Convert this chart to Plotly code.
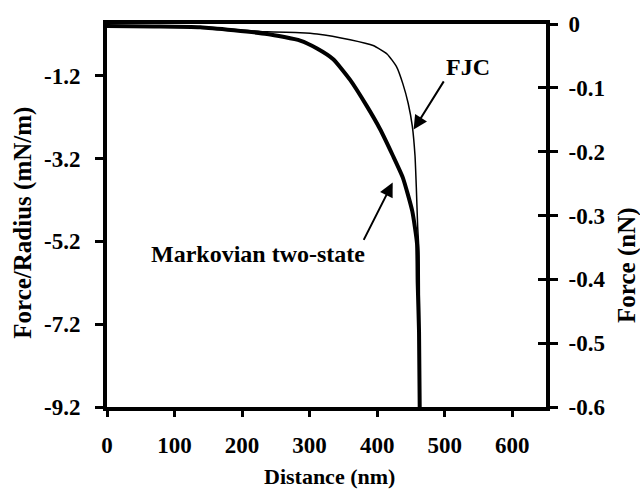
import plotly.graph_objects as go

# Data (distance in nm, force/radius in mN/m)
fjc_x = [0, 70, 138, 237, 286, 311, 360, 394, 415, 429, 438, 446, 452, 456, 458, 460, 462, 463]
fjc_y = [0.0, -0.01, -0.02, -0.14, -0.16, -0.19, -0.33, -0.47, -0.68, -0.99, -1.39, -1.87, -2.41, -3.12, -3.9, -4.85, -5.49, -9.2]

mk_x = [0, 70, 138, 237, 286, 311, 335, 360, 385, 404, 423, 438, 452, 459, 460, 462, 463]
mk_y = [0.0, -0.01, -0.03, -0.19, -0.35, -0.54, -0.80, -1.30, -1.94, -2.48, -3.12, -3.66, -4.47, -5.25, -6.2, -7.38, -9.2]

left_ticks = [-1.2, -3.2, -5.2, -7.2, -9.2]
left_labels = ["-1.2", "-3.2", "-5.2", "-7.2", "-9.2"]
right_ticks = [0, -0.1, -0.2, -0.3, -0.4, -0.5, -0.6]
right_labels = ["0", "-0.1", "-0.2", "-0.3", "-0.4", "-0.5", "-0.6"]
x_ticks = [0, 100, 200, 300, 400, 500, 600]
x_labels = ["0", "100", "200", "300", "400", "500", "600"]

FF = "Liberation Serif"
def f(size):
    return dict(family=FF, size=size, color="black")

def bold(labels):
    return ["<b>" + s + "</b>" for s in labels]

fig = go.Figure()
fig.add_trace(go.Scatter(x=fjc_x, y=fjc_y, mode="lines",
                         line=dict(color="black", width=1.5, shape="spline", smoothing=0.5),
                         showlegend=False, hoverinfo="skip"))
fig.add_trace(go.Scatter(x=mk_x, y=mk_y, mode="lines",
                         line=dict(color="black", width=4, shape="spline", smoothing=0.5),
                         showlegend=False, hoverinfo="skip"))
# invisible traces to activate right axes
fig.add_trace(go.Scatter(x=[0], y=[0], yaxis="y2", mode="markers", marker=dict(opacity=0),
                         showlegend=False, hoverinfo="skip"))
fig.add_trace(go.Scatter(x=[0], y=[0], yaxis="y3", mode="markers", marker=dict(opacity=0),
                         showlegend=False, hoverinfo="skip"))

fig.update_layout(
    width=640, height=497,
    margin=dict(l=107, r=94, t=16, b=90),
    paper_bgcolor="white", plot_bgcolor="white",
    xaxis=dict(range=[0, 650], tickvals=x_ticks, ticktext=bold(x_labels), tickfont=f(23), ticklabelstandoff=8,
               showline=True, linewidth=4, linecolor="black", mirror=True,
               ticks="outside", ticklen=6, tickwidth=3, tickcolor="black",
               showgrid=False, zeroline=False),
    yaxis=dict(range=[-9.2, 0.05], tickvals=left_ticks, ticktext=bold(left_labels), tickfont=f(23),
               ticklabelstandoff=10,
               showline=True, linewidth=4, linecolor="black",
               ticks="outside", ticklen=8, tickwidth=3, tickcolor="black",
               showgrid=False, zeroline=False),
    yaxis2=dict(range=[-0.6, 0], overlaying="y", side="right",
                tickvals=right_ticks, ticktext=bold(right_labels), tickfont=f(23), ticklabelstandoff=6,
                showline=True, linewidth=4, linecolor="black",
                ticks="outside", ticklen=8, tickwidth=3, tickcolor="black",
                showgrid=False, zeroline=False),
    yaxis3=dict(range=[-0.6, 0], overlaying="y", side="right",
                tickvals=right_ticks, showticklabels=False,
                showline=False, ticks="inside", ticklen=8, tickwidth=3, tickcolor="black",
                showgrid=False, zeroline=False),
)

# axis titles
fig.add_annotation(x=-0.19, y=0.48, xref="paper", yref="paper", text="<b>Force/Radius (mN/m)</b>",
                   textangle=-90, showarrow=False, font=f(25), xanchor="center", yanchor="middle")
fig.add_annotation(x=1.1845, y=0.371, xref="paper", yref="paper", text="<b>Force (nN)</b>",
                   textangle=-90, showarrow=False, font=f(25), xanchor="center", yanchor="middle")
fig.add_annotation(x=0.506, y=-0.182, xref="paper", yref="paper", text="<b>Distance (nm)</b>",
                   showarrow=False, font=f(22), xanchor="center", yanchor="middle")

# curve labels and arrows
fig.add_annotation(x=454, y=-2.5, ax=500, ay=-1.30, axref="x", ayref="y", xref="x", yref="y",
                   text="", showarrow=True, arrowhead=2, arrowsize=1.4, arrowwidth=2, arrowcolor="black")
fig.add_annotation(x=534, y=-1.0, xref="x", yref="y", text="<b>FJC</b>", showarrow=False, font=f(24))
fig.add_annotation(x=423, y=-3.78, ax=379, ay=-5.20, axref="x", ayref="y", xref="x", yref="y",
                   text="", showarrow=True, arrowhead=2, arrowsize=1.4, arrowwidth=2, arrowcolor="black")
fig.add_annotation(x=385, y=-5.51, xref="x", yref="y", text="<b>Markovian two-state</b>", showarrow=False,
                   font=f(24), xanchor="right", yanchor="middle")

fig.write_html("out.html")
